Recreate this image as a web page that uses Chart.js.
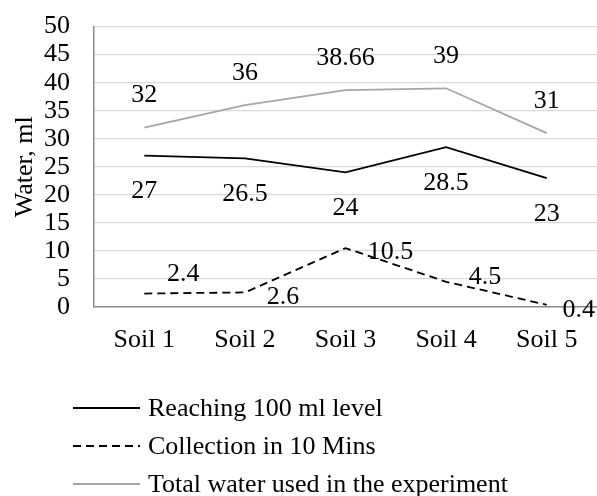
<!DOCTYPE html>
<html>
<head>
<meta charset="utf-8">
<script src="https://cdn.jsdelivr.net/npm/chart.js@4"></script>
<style>
  html, body { margin: 0; padding: 0; background: #fff; }
  #wrap { width: 597px; height: 496px; position: relative; }
</style>
</head>
<body>
<div id="wrap"><canvas id="c" width="597" height="496"></canvas></div>
<script>
const categories = ['Soil 1', 'Soil 2', 'Soil 3', 'Soil 4', 'Soil 5'];
const reachingValues = [27, 26.5, 24, 28.5, 23];
const collectionValues = [2.4, 2.6, 10.5, 4.5, 0.4];
const totalValues = [32, 36, 38.66, 39, 31];
const seriesNames = ['Reaching 100 ml level', 'Collection in 10 Mins', 'Total water used in the experiment'];
const yTicks = [0, 5, 10, 15, 20, 25, 30, 35, 40, 45, 50];

const FONT = '"Liberation Serif", "Times New Roman", serif';
const FS = 26;

// label offsets (pixels relative to point) per series
const labelOffsets = [
  [[0, 36], [0, 36], [0, 36], [0, 36], [0, 36]],
  [[39, -19], [38, 5], [45, 4], [39, -5], [32, 5]],
  [[0, -32], [0, -32], [0, -32], [0, -32], [0, -32]]
];

const labelPlugin = {
  id: 'pointLabels',
  afterDatasetsDraw(chart) {
    const ctx = chart.ctx;
    ctx.save();
    ctx.font = FS + 'px ' + FONT;
    ctx.fillStyle = '#000';
    ctx.textAlign = 'center';
    ctx.textBaseline = 'middle';
    chart.data.datasets.forEach((ds, di) => {
      const meta = chart.getDatasetMeta(di);
      meta.data.forEach((pt, i) => {
        const off = labelOffsets[di][i];
        ctx.fillText(String(ds.data[i]), pt.x + off[0], pt.y + off[1]);
      });
    });
    ctx.restore();
  }
};

const legendPlugin = {
  id: 'stackLegend',
  afterDraw(chart) {
    const ctx = chart.ctx;
    ctx.save();
    ctx.font = FS + 'px ' + FONT;
    ctx.textBaseline = 'middle';
    ctx.textAlign = 'left';
    chart.data.datasets.forEach((ds, i) => {
      const y = 408 + i * 38;
      ctx.beginPath();
      ctx.strokeStyle = ds.borderColor;
      ctx.lineWidth = ds.borderWidth;
      ctx.setLineDash(ds.borderDash || []);
      ctx.moveTo(73, y);
      ctx.lineTo(140, y);
      ctx.stroke();
      ctx.setLineDash([]);
      ctx.fillStyle = '#000';
      ctx.fillText(ds.label, 148, y + 1);
    });
    ctx.restore();
  }
};

new Chart(document.getElementById('c'), {
  type: 'line',
  data: {
    labels: categories,
    datasets: [
      { label: seriesNames[0], data: reachingValues, borderColor: '#000000', borderWidth: 1.8, pointRadius: 0, tension: 0, fill: false },
      { label: seriesNames[1], data: collectionValues, borderColor: '#000000', borderWidth: 1.8, borderDash: [8, 5], pointRadius: 0, tension: 0, fill: false },
      { label: seriesNames[2], data: totalValues, borderColor: '#a5a5a5', borderWidth: 1.8, pointRadius: 0, tension: 0, fill: false }
    ]
  },
  options: {
    responsive: false,
    animation: false,
    layout: { padding: { top: 14, right: 0, left: 0, bottom: 149 } },
    plugins: { legend: { display: false }, tooltip: { enabled: false } },
    scales: {
      x: {
        offset: true,
        grid: { display: false, drawTicks: false },
        border: { display: true, color: '#8c8c8c', width: 1.5 },
        ticks: { color: '#000', font: { family: FONT, size: FS }, padding: 18, maxRotation: 0 },
        afterFit(s) { s.height = 40; }
      },
      y: {
        min: 0, max: 50,
        afterBuildTicks(s) { s.ticks = yTicks.map(v => ({ value: v })); },
        grid: { color: '#d9d9d9', lineWidth: 1.2, drawTicks: true, tickLength: 13, tickColor: 'rgba(0,0,0,0)' },
        border: { display: true, color: '#8c8c8c', width: 1.5 },
        ticks: { color: '#000', font: { family: FONT, size: FS }, padding: 11, autoSkip: false, stepSize: 5 },
        title: { display: true, text: 'Water, ml', color: '#000', font: { family: FONT, size: FS }, padding: { top: 10, bottom: 0 } },
        afterFit(s) { s.width = 94; }
      }
    }
  },
  plugins: [labelPlugin, legendPlugin]
});
</script>
</body>
</html>
